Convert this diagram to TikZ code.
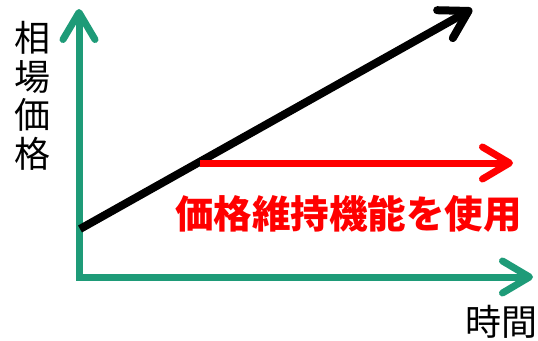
\documentclass[tikz,border=0pt]{standalone}
\usepackage{fontspec}
\newfontfamily\jp{Noto Sans CJK JP}
\usetikzlibrary{arrows.meta}
\definecolor{axisgreen}{RGB}{30,155,120}
\begin{document}
\begin{tikzpicture}[x=1pt,y=-1pt,
  barb/.style={-{Straight Barb[length=27pt,width=32pt,round]}},
  axis/.style={draw=axisgreen,line width=7pt,{Straight Barb[length=27pt,width=32pt,round]}-{Straight Barb[length=27pt,width=32pt,round]}},
  trend/.style={draw=black,line width=8pt,barb},
  hold/.style={draw=red,line width=7pt,barb},
  lab/.style={font=\jp\fontsize{36}{38.5}\selectfont,text=black,inner sep=0pt,align=center}]
\useasboundingbox (0,0) rectangle (538,340);
\coordinate (ytop) at (79,9);
\coordinate (origin) at (79,277);
\coordinate (xend) at (533,277);
\coordinate (bstart) at (80,229);
\coordinate (bend) at (472,9);
\coordinate (rstart) at (200,163);
\coordinate (rend) at (513,163);
\draw[axis] (ytop) -- (origin) -- (xend);
\draw[trend] (bstart) -- (bend);
\draw[hold] (rstart) -- (rend);
\node[lab] (ylab) at (32,96) {相\\場\\価\\格};
\node[lab] (xlab) at (501,322) {時間};
\node[font=\jp\bfseries\fontsize{38.5}{40}\selectfont,text=red,inner sep=0pt] (note) at (348.5,213.5) {価格維持機能を使用};
\end{tikzpicture}
\end{document}
